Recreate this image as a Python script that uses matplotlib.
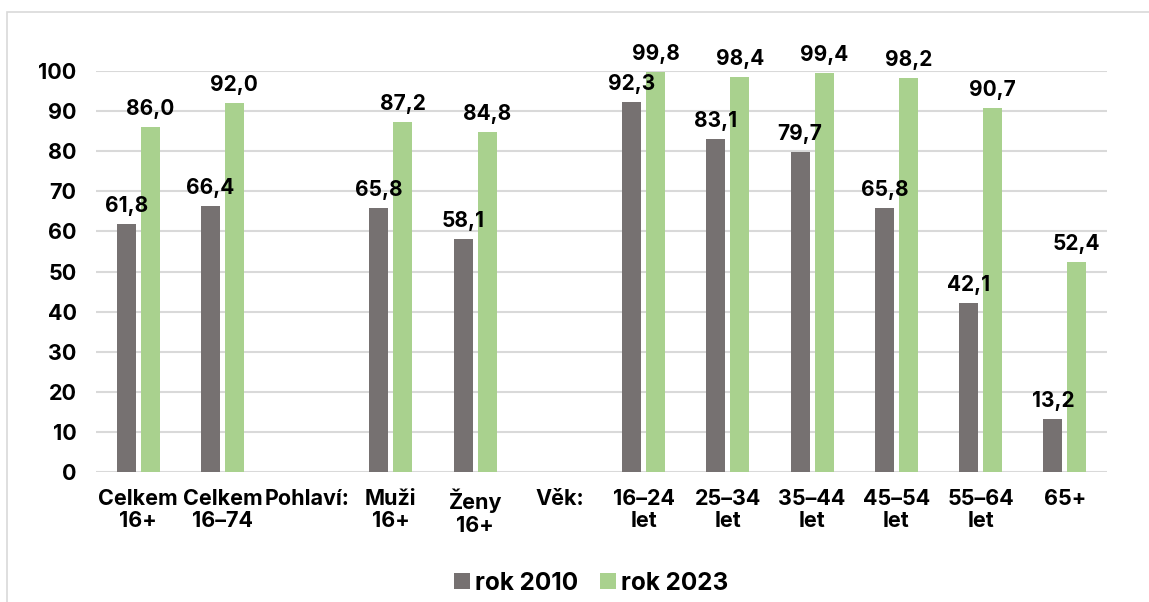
import matplotlib
matplotlib.use("Agg")
import matplotlib.pyplot as plt
import numpy as np
from matplotlib.patches import Rectangle

categories = ["Celkem\n16+", "Celkem\n16–74", "Pohlaví:", "Muži\n16+", "Ženy\n16+", "Věk:",
              "16–24\nlet", "25–34\nlet", "35–44\nlet", "45–54\nlet", "55–64\nlet", "65+"]
rok_2010 = [61.8, 66.4, None, 65.8, 58.1, None, 92.3, 83.1, 79.7, 65.8, 42.1, 13.2]
rok_2023 = [86.0, 92.0, None, 87.2, 84.8, None, 99.8, 98.4, 99.4, 98.2, 90.7, 52.4]
yticks = [0, 10, 20, 30, 40, 50, 60, 70, 80, 90, 100]

plt.rcParams['font.family'] = ['Inter', 'DejaVu Sans']
plt.rcParams['font.weight'] = 'bold'

fig = plt.figure(figsize=(11.49, 6.02), dpi=100)
# outer light frame
fig.patches.append(Rectangle((7 / 1149, -0.05), 1.2, (602 - 12) / 602 + 0.05,
                             transform=fig.transFigure, fill=False,
                             edgecolor="#d9d9d9", linewidth=1.2))

ax = fig.add_axes([96 / 1149, 1 - 472 / 602, (1107 - 96) / 1149, (472 - 71) / 602])

x = np.arange(len(categories))
w = 0.225
off = 0.142


def draw(vals, shift, color, label):
    xs = [xi + shift for xi, v in zip(x, vals) if v is not None]
    vs = [v for v in vals if v is not None]
    bars = ax.bar(xs, vs, width=w, color=color, label=label, zorder=3)
    for b, v in zip(bars, vs):
        ax.text(b.get_x() + b.get_width() / 2, v + 2.0, f"{v:.1f}".replace(".", ","),
                ha="center", va="bottom", fontsize=15, fontweight="bold", clip_on=False,
                zorder=4)
    return bars


draw(rok_2010, -off, "#767171", "rok 2010")
draw(rok_2023, off, "#a9d18e", "rok 2023")

ax.set_xlim(-0.5, len(categories) - 0.5)
ax.set_ylim(0, 100)
ax.set_yticks(yticks)
ax.set_yticklabels([str(t) for t in yticks], fontsize=15.5, fontweight="bold")
ax.set_xticks(x)
ax.set_xticklabels(categories, fontsize=15.5, fontweight="bold", linespacing=1.15)
ax.tick_params(length=0, pad=12)
ax.tick_params(axis="y", pad=14)
ax.grid(axis="y", color="#d9d9d9", linewidth=1.5, zorder=0)
for s in ax.spines.values():
    s.set_visible(False)

fig.legend(loc="center", bbox_to_anchor=(591 / 1149, 1 - 583 / 602), ncol=2, frameon=False,
           prop={"size": 17.5, "weight": "bold"}, handlelength=0.65, handleheight=0.65,
           handletextpad=0.2, columnspacing=0.9)

fig.savefig("out.png", dpi=100)
